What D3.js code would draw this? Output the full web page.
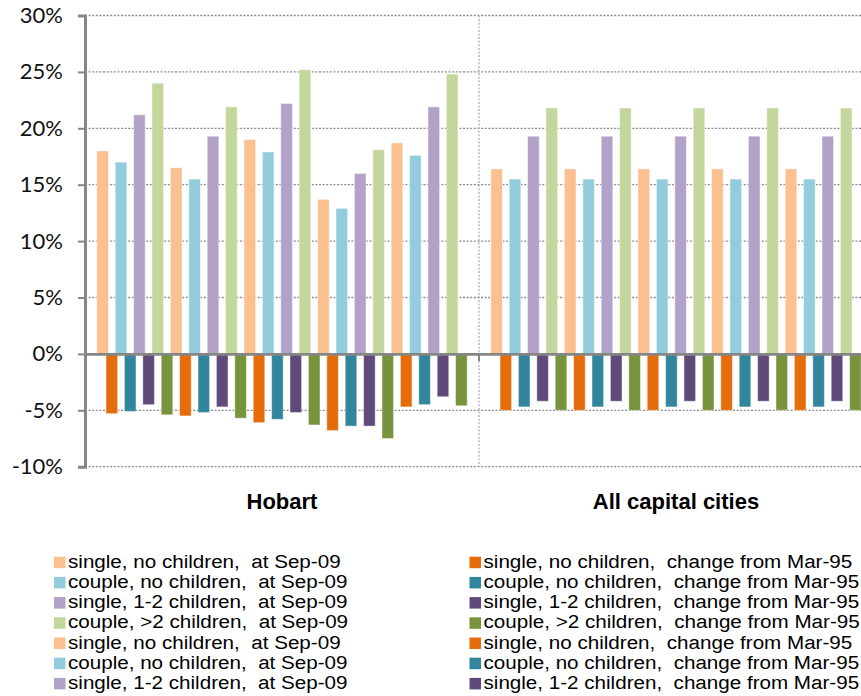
<!DOCTYPE html>
<html>
<head>
<meta charset="utf-8">
<script src="https://cdn.jsdelivr.net/npm/d3@7"></script>
<style>
  html, body { margin: 0; padding: 0; background: #fff; overflow: hidden; }
  svg { display: block; }
</style>
</head>
<body>
<svg id="chart" width="861" height="696"></svg>
<script>
// ---------- data ----------
const categories = ["Hobart", "All capital cities"];
const householdTypes = ["single, no children", "couple, no children", "single, 1-2 children", "couple, >2 children"];
const levelLabel = "at Sep-09";
const changeLabel = "change from Mar-95";
const levelColors = ["#FAC090", "#93CDDD", "#B3A2C7", "#C3D69B"];
const changeColors = ["#E46C0A", "#31859C", "#604A7B", "#77933C"];

// values in %, five repeated blocks of the four household types
const levelHobart    = [18.0, 17.0, 21.2, 24.0,  16.5, 15.5, 19.3, 21.9,  19.0, 17.9, 22.2, 25.2,  13.7, 12.9, 16.0, 18.1,  18.7, 17.6, 21.9, 24.8];
const changeHobart   = [-5.3, -5.1, -4.5, -5.4,  -5.5, -5.2, -4.7, -5.7,  -6.1, -5.8, -5.2, -6.3,  -6.8, -6.4, -6.4, -7.5,  -4.7, -4.5, -3.8, -4.6];
const levelCapitals  = [16.4, 15.5, 19.3, 21.8,  16.4, 15.5, 19.3, 21.8,  16.4, 15.5, 19.3, 21.8,  16.4, 15.5, 19.3, 21.8,  16.4, 15.5, 19.3, 21.8];
const changeCapitals = [-5.0, -4.7, -4.2, -5.0,  -5.0, -4.7, -4.2, -5.0,  -5.0, -4.7, -4.2, -5.0,  -5.0, -4.7, -4.2, -5.0,  -5.0, -4.7, -4.2, -5.0];
const yTicks = [-10, -5, 0, 5, 10, 15, 20, 25, 30];

// ---------- build series (level, change alternating) ----------
const series = [];
for (let i = 0; i < levelHobart.length; i++) {
  const t = i % householdTypes.length;
  series.push({ name: householdTypes[t] + ",  " + levelLabel, color: levelColors[t],
                values: [levelHobart[i], levelCapitals[i]] });
  series.push({ name: householdTypes[t] + ",  " + changeLabel, color: changeColors[t],
                values: [changeHobart[i], changeCapitals[i]] });
}

// ---------- layout ----------
const svg = d3.select("#chart");
const plotLeft = 85, plotRight = 873, plotTop = 15.5, plotBottom = 466.7;

const x0 = d3.scaleBand().domain(categories).range([plotLeft, plotRight]).padding(0);
const x1 = d3.scaleBand().domain(d3.range(series.length)).range([0, x0.bandwidth()])
  .paddingInner(0).paddingOuter(1.415);
const y = d3.scaleLinear().domain([-10, 30]).range([plotBottom, plotTop]);
const barW = x1.step() * 1.26;

// gridlines
const gridColor = "#8a8a8a";
svg.append("g").selectAll("line").data(yTicks.filter(d => d !== 0)).join("line")
  .attr("x1", plotLeft).attr("x2", plotRight)
  .attr("y1", d => y(d)).attr("y2", d => y(d))
  .attr("stroke", gridColor).attr("stroke-width", 1.3).attr("stroke-dasharray", "2,1.6");

// vertical category separators
svg.append("g").selectAll("line").data(categories.slice(1)).join("line")
  .attr("x1", d => x0(d)).attr("x2", d => x0(d))
  .attr("y1", plotTop).attr("y2", plotBottom)
  .attr("stroke", "#a8a8a8").attr("stroke-width", 1.2).attr("stroke-dasharray", "2,1.6");

// bars
const gCat = svg.append("g").selectAll("g").data(categories).join("g");
gCat.selectAll("rect").data((c, ci) => series.map((s, si) => ({ s, si, v: s.values[ci], c }))).join("rect")
  .attr("x", d => x0(d.c) + x1(d.si) + x1.bandwidth() / 2 - barW / 2)
  .attr("width", barW)
  .attr("y", d => y(Math.max(0, d.v)))
  .attr("height", d => Math.abs(y(d.v) - y(0)))
  .attr("fill", d => d.s.color)
  .attr("stroke", "rgba(255,255,255,0.45)")
  .attr("stroke-width", 1);

// y axis
const yAxis = svg.append("g").attr("transform", `translate(${plotLeft},0)`)
  .call(d3.axisLeft(y).tickValues(yTicks).tickFormat(d => d + "%").tickSize(7).tickPadding(15));
yAxis.select(".domain").attr("stroke", "#868686").attr("stroke-width", 3);
yAxis.selectAll(".tick line").attr("stroke", "#868686").attr("stroke-width", 2);
yAxis.selectAll(".tick text").attr("font-family", "Lato, 'Open Sans', sans-serif")
  .attr("font-size", 22).attr("fill", "#111");

// x axis (zero line)
const xAxis = svg.append("g").attr("transform", `translate(0,${y(0)})`)
  .call(d3.axisBottom(x0).tickValues([]).tickSizeOuter(0));
xAxis.select(".domain").attr("stroke", "#868686").attr("stroke-width", 2.8);
svg.append("g").selectAll("line").data(categories.slice(1)).join("line")
  .attr("x1", d => x0(d)).attr("x2", d => x0(d))
  .attr("y1", y(0)).attr("y2", y(0) + 7)
  .attr("stroke", "#868686").attr("stroke-width", 2);

// category labels
svg.append("g").selectAll("text").data(categories).join("text")
  .attr("x", d => x0(d) + x0.bandwidth() / 2)
  .attr("y", 509)
  .attr("text-anchor", "middle")
  .attr("font-family", "Arial, 'Liberation Sans', sans-serif")
  .attr("font-weight", "bold").attr("font-size", 22).attr("fill", "#000")
  .text(d => d);

// legend (visible part: first 7 rows, two columns filled row-wise)
const legendRows = 7;
const legendItems = series.slice(0, legendRows * 2).map((s, i) => ({ s, row: Math.floor(i / 2), col: i % 2 }));
const colX = [54, 469.5];
const legend = svg.append("g");
const li = legend.selectAll("g").data(legendItems).join("g")
  .attr("transform", d => `translate(${colX[d.col]},${567.7 + d.row * 20.2})`);
li.append("rect").attr("x", 0).attr("y", -11).attr("width", 11.5).attr("height", 11.5)
  .attr("fill", d => d.s.color);
li.append("text")
  .attr("transform", "translate(14,0) scale(1.085,1)")
  .attr("font-family", "Arial, 'Liberation Sans', sans-serif")
  .attr("font-size", 19).attr("fill", "#000")
  .style("white-space", "pre")
  .text(d => d.s.name);
</script>
</body>
</html>
